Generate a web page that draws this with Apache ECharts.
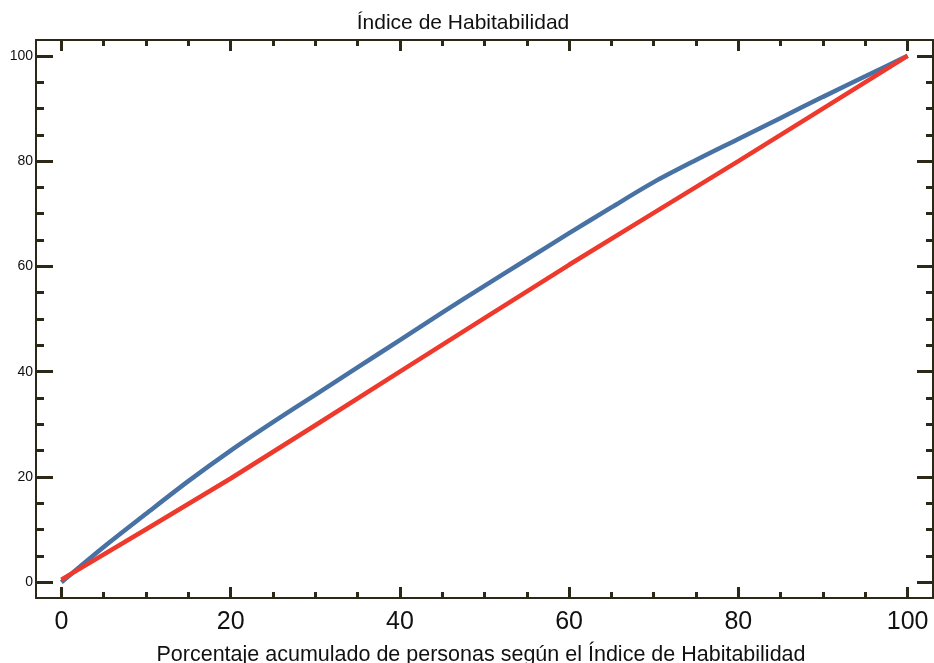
<!DOCTYPE html>
<html><head><meta charset="utf-8">
<script src="https://cdn.jsdelivr.net/npm/echarts@6/dist/echarts.min.js"></script>
<style>html,body{margin:0;padding:0;background:#fff}#c{width:934px;height:663px}</style>
</head><body><div id="c"></div>
<script>
const chartTitle = 'Índice de Habitabilidad';
const xTitle = 'Porcentaje acumulado de personas según el Índice de Habitabilidad';
const blueX = [0, 5, 10, 15, 20, 25, 30, 35, 40, 45, 50, 55, 60, 65, 70, 75, 80, 85, 90, 95, 100];
const blueValues = [0, 6.7, 13.0, 19.2, 25.0, 30.4, 35.6, 40.8, 46.0, 51.2, 56.3, 61.3, 66.3, 71.2, 76.0, 80.2, 84.2, 88.2, 92.2, 96.1, 100];
const redX = [0, 20, 40, 60, 80, 100];
const redValues = [0.5, 19.7, 40.0, 60.3, 80.0, 100];
const majorTicks = [0, 20, 40, 60, 80, 100];
const minorTicks = [5, 10, 15, 25, 30, 35, 45, 50, 55, 65, 70, 75, 85, 90, 95];
const tickLabels = ['0', '20', '40', '60', '80', '100'];

const AX = '#2b2818';
function axis(kind, pos, ticks, len, showLine, labelSize) {
  return {
    type: 'value', position: pos, min: -3, max: 103,
    axisLine: { show: showLine, onZero: false, lineStyle: { color: AX, width: 2 } },
    axisTick: { show: true, inside: true, length: len, customValues: ticks, lineStyle: { color: AX, width: 3 } },
    axisLabel: labelSize ? {
      show: true, customValues: majorTicks, color: '#111',
      fontFamily: 'Liberation Sans, Arial, sans-serif', fontSize: labelSize,
      margin: kind === 'x' ? 12 : 3,
      formatter: v => tickLabels[majorTicks.indexOf(v)] ?? ''
    } : { show: false },
    splitLine: { show: false }
  };
}

const chart = echarts.init(document.getElementById('c'), null, { renderer: 'canvas' });
chart.setOption({
  animation: false,
  backgroundColor: '#fff',
  title: [
    { text: chartTitle, left: 458, top: 8, textAlign: 'center',
      textStyle: { fontFamily: 'Liberation Sans, Arial, sans-serif', fontSize: 21, fontWeight: 'normal', color: '#111' } },
    { text: xTitle, left: 476, top: 639, textAlign: 'center',
      textStyle: { fontFamily: 'Liberation Sans, Arial, sans-serif', fontSize: 21.5, fontWeight: 'normal', color: '#111' } }
  ],
  grid: { left: 36, right: 1, top: 40, bottom: 65, containLabel: false, outerBoundsMode: 'none' },
  xAxis: [
    axis('x', 'bottom', majorTicks, 11, true, 25),
    axis('x', 'bottom', minorTicks, 6, false, 0),
    axis('x', 'top', majorTicks, 11, true, 0),
    axis('x', 'top', minorTicks, 6, false, 0)
  ],
  yAxis: [
    axis('y', 'left', majorTicks, 17, true, 14),
    axis('y', 'left', minorTicks, 8, false, 0),
    axis('y', 'right', majorTicks, 16, true, 0),
    axis('y', 'right', minorTicks, 7, false, 0)
  ],
  series: [
    { type: 'line', xAxisIndex: 0, yAxisIndex: 0, data: blueX.map((x, i) => [x, blueValues[i]]),
      smooth: 0.3, showSymbol: false, lineStyle: { color: '#4872a3', width: 4.5 } },
    { type: 'line', xAxisIndex: 0, yAxisIndex: 0, data: redX.map((x, i) => [x, redValues[i]]),
      smooth: 0.2, showSymbol: false, lineStyle: { color: '#ee3a2c', width: 4.5 } }
  ]
});
</script></body></html>
